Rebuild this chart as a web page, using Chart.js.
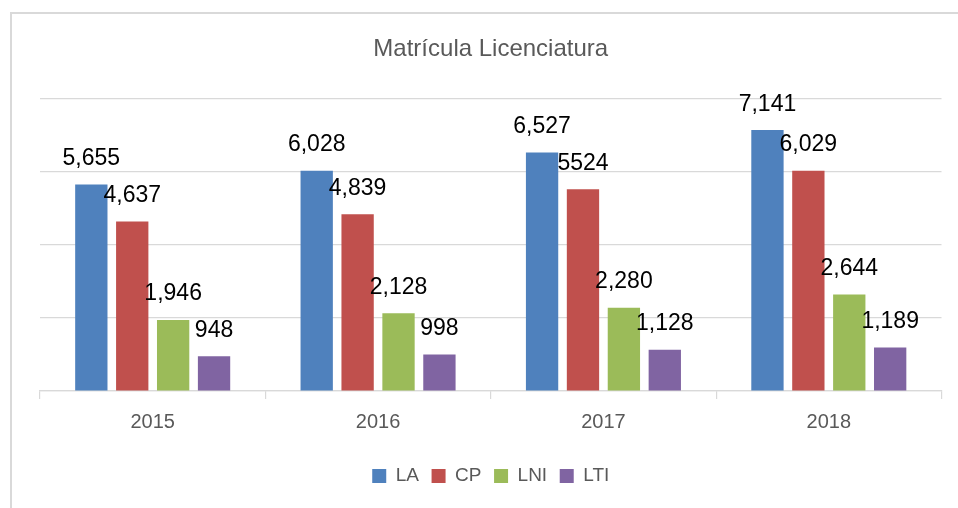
<!DOCTYPE html>
<html>
<head>
<meta charset="utf-8">
<script src="https://cdn.jsdelivr.net/npm/chart.js@4"></script>
<style>
  html, body { margin: 0; padding: 0; background: #fff; overflow: hidden; }
  #wrap { position: relative; width: 958px; height: 508px; }
  #frame { position: absolute; left: 10px; top: 12px; width: 1000px; height: 600px;
           border: 2px solid #d9d9d9; pointer-events: none; }
</style>
</head>
<body>
<div id="wrap">
  <canvas id="myChart" width="958" height="508"></canvas>
  <div id="frame"></div>
</div>
<script>
const years = ["2015", "2016", "2017", "2018"];

const la = [5655, 6028, 6527, 7141];
const cp = [4637, 4839, 5524, 6029];
const lni = [1946, 2128, 2280, 2644];
const lti = [948, 998, 1128, 1189];

// labels as printed on the chart
const laText = ["5,655", "6,028", "6,527", "7,141"];
const cpText = ["4,637", "4,839", "5524", "6,029"];
const lniText = ["1,946", "2,128", "2,280", "2,644"];
const ltiText = ["948", "998", "1,128", "1,189"];

const FONT = "'Liberation Sans', Arial, sans-serif";

// draws the value above each bar
const barLabels = {
  id: "barLabels",
  afterDatasetsDraw(chart) {
    const ctx = chart.ctx;
    ctx.save();
    ctx.font = "23px " + FONT;
    ctx.fillStyle = "#000";
    ctx.textAlign = "center";
    ctx.textBaseline = "alphabetic";
    chart.data.datasets.forEach((ds, i) => {
      chart.getDatasetMeta(i).data.forEach((bar, j) => {
        ctx.fillText(ds.texts[j], bar.x, bar.y - 19.5);
      });
    });
    ctx.restore();
  },
};

const ctx = document.getElementById("myChart");

new Chart(ctx, {
  type: "bar",
  data: {
    labels: years,
    datasets: [
      { label: "LA", data: la, texts: laText, backgroundColor: "#4F81BD" },
      { label: "CP", data: cp, texts: cpText, backgroundColor: "#C0504D" },
      { label: "LNI", data: lni, texts: lniText, backgroundColor: "#9BBB59" },
      { label: "LTI", data: lti, texts: ltiText, backgroundColor: "#8064A2" },
    ],
  },
  options: {
    responsive: false,
    animation: false,
    categoryPercentage: 0.726,
    barPercentage: 0.79,
    layout: {
      padding: { left: 40, right: 16.5, top: 0, bottom: 12.4 },
    },
    plugins: {
      title: {
        display: true,
        text: "Matrícula Licenciatura",
        color: "#595959",
        font: { family: FONT, size: 24, weight: "normal" },
        padding: { top: 34.6, bottom: 35.3 },
      },
      legend: {
        position: "bottom",
        labels: {
          color: "#595959",
          font: { family: FONT, size: 19 },
          boxWidth: 14,
          boxHeight: 14,
          padding: 12.6,
        },
      },
      tooltip: { enabled: false },
    },
    scales: {
      y: {
        min: 0,
        max: 8000,
        ticks: { display: false, stepSize: 2000 },
        grid: { color: "#d9d9d9", lineWidth: 1.2, drawTicks: false },
        border: { display: false },
      },
      x: {
        ticks: {
          color: "#595959",
          font: { family: FONT, size: 20 },
          padding: 11,
        },
        grid: {
          drawOnChartArea: false,
          tickLength: 8,
          color: "#d9d9d9",
          lineWidth: 1.2,
        },
        border: { color: "#d9d9d9", width: 1.2 },
        afterFit(scale) {
          scale.height += 9;
        },
      },
    },
  },
  plugins: [barLabels],
});
</script>
</body>
</html>
